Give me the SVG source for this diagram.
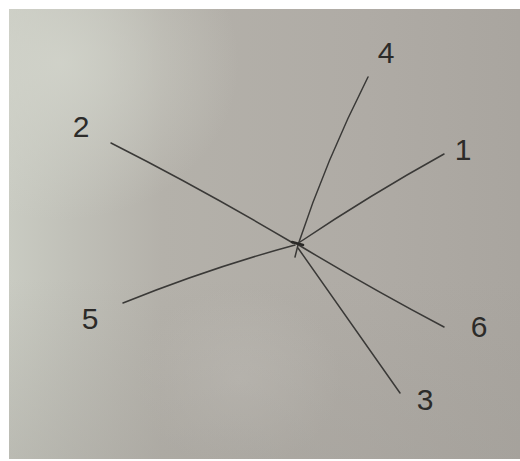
<svg xmlns="http://www.w3.org/2000/svg" width="520" height="461" viewBox="0 0 520 461">
  <defs>
    <linearGradient id="paper" x1="0" y1="0" x2="1" y2="0">
      <stop offset="0" stop-color="#c9cbc2"/>
      <stop offset="0.12" stop-color="#c0c0b8"/>
      <stop offset="0.3" stop-color="#b4b1aa"/>
      <stop offset="0.7" stop-color="#afaba5"/>
      <stop offset="1" stop-color="#a9a59f"/>
    </linearGradient>
    <radialGradient id="glow" cx="0.1" cy="0.12" r="0.35">
      <stop offset="0" stop-color="#d3d5cc" stop-opacity="0.8"/>
      <stop offset="1" stop-color="#d3d5cc" stop-opacity="0"/>
    </radialGradient>
    <radialGradient id="patch" cx="0.45" cy="0.82" r="0.2">
      <stop offset="0" stop-color="#bcb9b3" stop-opacity="0.8"/>
      <stop offset="1" stop-color="#bcb9b3" stop-opacity="0"/>
    </radialGradient>
    <linearGradient id="shade" x1="0" y1="0" x2="0" y2="1">
      <stop offset="0.6" stop-color="#9f9c96" stop-opacity="0"/>
      <stop offset="1" stop-color="#9f9c96" stop-opacity="0.35"/>
    </linearGradient>
  </defs>
  <style>
    .ln { fill: none; stroke: #3a3937; stroke-width: 1.5; stroke-linecap: round; stroke-linejoin: round; }
    .lbl { font-family: "Liberation Sans", "DejaVu Sans", sans-serif; font-size: 30px; fill: #2c2b29; text-anchor: middle; }
  </style>
  <rect x="0" y="0" width="520" height="461" fill="#ffffff"/>
  <g id="paper-bg">
    <rect x="9" y="9" width="511" height="450" fill="url(#paper)"/>
    <rect x="9" y="9" width="511" height="450" fill="url(#glow)"/>
    <rect x="9" y="9" width="511" height="450" fill="url(#patch)"/>
    <rect x="9" y="9" width="511" height="450" fill="url(#shade)"/>
  </g>
  <g id="connectors">
    <path class="ln" d="M111,143 Q200,188 293,243"/>
    <path class="ln" d="M297,244 Q370,288 444,327"/>
    <path class="ln" d="M368,77 Q326,160 298,245 L295,257"/>
    <path class="ln" d="M444,154 Q370,195 300,242"/>
    <path class="ln" d="M123,303 Q210,268 295,245"/>
    <path class="ln" d="M298,248 Q347,318 400,393"/>
    <path d="M292,242 L303,245" fill="none" stroke="#2a2927" stroke-width="2.6" stroke-linecap="round"/>
  </g>
  <g id="node-1"><text class="lbl" x="463" y="160">1</text></g>
  <g id="node-2"><text class="lbl" x="81" y="137">2</text></g>
  <g id="node-3"><text class="lbl" x="425" y="410">3</text></g>
  <g id="node-4"><text class="lbl" x="386" y="63">4</text></g>
  <g id="node-5"><text class="lbl" x="90" y="329">5</text></g>
  <g id="node-6"><text class="lbl" x="479" y="337">6</text></g>
</svg>
